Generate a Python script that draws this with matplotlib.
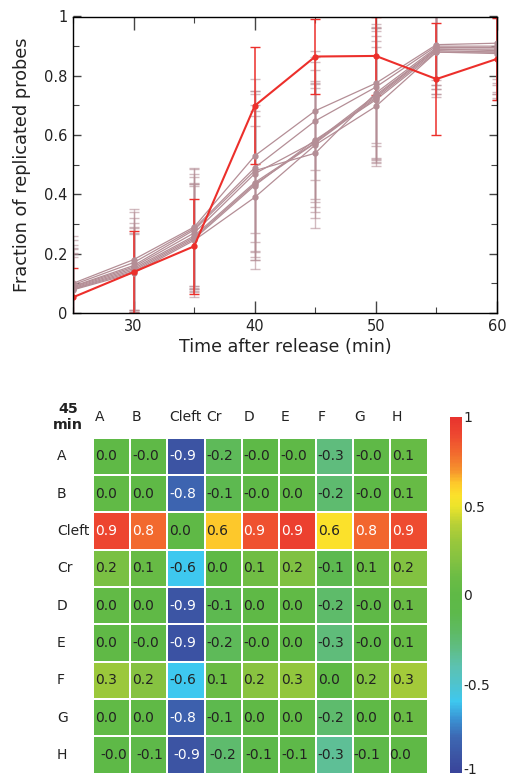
import numpy as np
import matplotlib
matplotlib.use("Agg")
import matplotlib.pyplot as plt
import matplotlib.transforms as mtransforms
from matplotlib.colors import LinearSegmentedColormap, Normalize
from matplotlib.ticker import MultipleLocator, FormatStrFormatter

# replication time course (min after release)
times = [25, 30, 35, 40, 45, 50, 55, 60]

cleft_frac = [0.053, 0.138, 0.225, 0.699, 0.865, 0.867, 0.789, 0.857]
cleft_err = [0.10, 0.137, 0.16, 0.197, 0.126, 0.133, 0.19, 0.137]

# the other eight regions (grey curves)
other_frac = [
    [0.100, 0.180, 0.290, 0.530, 0.682, 0.775, 0.905, 0.910],
    [0.095, 0.170, 0.285, 0.490, 0.648, 0.762, 0.900, 0.900],
    [0.090, 0.160, 0.280, 0.480, 0.539, 0.742, 0.895, 0.895],
    [0.088, 0.155, 0.270, 0.470, 0.579, 0.735, 0.890, 0.890],
    [0.085, 0.150, 0.260, 0.440, 0.575, 0.730, 0.890, 0.885],
    [0.082, 0.145, 0.255, 0.435, 0.573, 0.725, 0.885, 0.880],
    [0.080, 0.140, 0.250, 0.430, 0.584, 0.719, 0.880, 0.880],
    [0.078, 0.135, 0.245, 0.390, 0.567, 0.697, 0.880, 0.875],
]
other_err = [
    [0.16, 0.17, 0.20, 0.26, 0.20, 0.20, 0.12, 0.12],
    [0.15, 0.17, 0.20, 0.25, 0.20, 0.20, 0.13, 0.13],
    [0.14, 0.16, 0.19, 0.27, 0.22, 0.22, 0.14, 0.17],
    [0.13, 0.15, 0.19, 0.28, 0.24, 0.23, 0.15, 0.15],
    [0.13, 0.14, 0.18, 0.26, 0.29, 0.22, 0.12, 0.11],
    [0.12, 0.14, 0.18, 0.23, 0.20, 0.21, 0.13, 0.14],
    [0.12, 0.13, 0.18, 0.25, 0.20, 0.20, 0.14, 0.16],
    [0.11, 0.13, 0.19, 0.24, 0.21, 0.20, 0.15, 0.13],
]

# correlation matrix at 45 min
regions = ["A", "B", "Cleft", "Cr", "D", "E", "F", "G", "H"]
corr = [
    [0.00, -0.02, -0.91, -0.16, -0.03, -0.01, -0.28, -0.02, 0.06],
    [0.02, 0.00, -0.82, -0.12, -0.01, 0.01, -0.24, -0.03, 0.07],
    [0.91, 0.80, 0.00, 0.63, 0.87, 0.93, 0.56, 0.81, 0.89],
    [0.16, 0.07, -0.60, 0.00, 0.12, 0.18, -0.12, 0.09, 0.19],
    [0.03, 0.01, -0.90, -0.12, 0.00, 0.02, -0.22, -0.02, 0.08],
    [0.01, -0.02, -0.92, -0.16, -0.02, 0.00, -0.27, -0.03, 0.06],
    [0.31, 0.21, -0.60, 0.10, 0.22, 0.27, 0.00, 0.19, 0.33],
    [0.02, 0.01, -0.84, -0.11, 0.01, 0.02, -0.23, 0.00, 0.08],
    [-0.03, -0.07, -0.91, -0.23, -0.08, -0.06, -0.34, -0.07, 0.00],
]

cmap_stops = [-1.0, -0.9, -0.8, -0.7, -0.6, -0.5, -0.4, -0.3, -0.2, -0.1, 0.0,
              0.1, 0.2, 0.3, 0.4, 0.5, 0.56, 0.63, 0.7, 0.8, 0.9, 1.0]
cmap_colors = ["#39449a", "#3c56a5", "#3d68b3", "#3a92d3", "#3ec8ef", "#50c3cc",
               "#5cc2b0", "#5fbd84", "#5eba62", "#5db94b", "#5fb946",
               "#6bbc45", "#84c241", "#98c73c", "#b8d036", "#ece42b", "#fbe12b",
               "#fdc92b", "#f6942d", "#f26a2e", "#ee4830", "#e8332e"]

red = "#ec2f2b"
grey = "#b48e96"

fig = plt.figure(figsize=(5.07, 7.76), dpi=100)

# ---- top: time course ----
ax1 = fig.add_axes([73 / 507, 1 - 313 / 776, 424 / 507, 296.5 / 776])
for frac, err in zip(other_frac, other_err):
    eb = ax1.errorbar(times, frac, yerr=err, color=grey, marker="o", ms=3.5,
                      lw=0.9, elinewidth=1.0, capsize=3.5, capthick=1.0)
    for part in eb[1] + eb[2]:
        part.set_alpha(0.6)
ax1.errorbar(times, cleft_frac, yerr=cleft_err, color=red, marker="o", ms=3.5,
             lw=1.5, elinewidth=1.1, capsize=3.5, capthick=1.0)

ax1.set_xlim(25, 60)
ax1.set_ylim(0, 1)
ax1.xaxis.set_major_locator(MultipleLocator(10))
ax1.xaxis.set_minor_locator(MultipleLocator(5))
ax1.yaxis.set_major_locator(MultipleLocator(0.2))
ax1.yaxis.set_minor_locator(MultipleLocator(0.1))
ax1.yaxis.set_major_formatter(FormatStrFormatter("%g"))
ax1.tick_params(which="both", direction="in", top=True, right=True,
                color="#444444", labelsize=10.5, labelcolor="#222222")
ax1.tick_params(axis="x", which="major", length=9, width=1, pad=4)
ax1.tick_params(axis="y", which="major", length=6, width=1, pad=4)
ax1.tick_params(which="minor", length=4, width=0.8)
for s in ax1.spines.values():
    s.set_linewidth(1.0)
ax1.set_xlabel("Time after release (min)", fontsize=12.6, color="#222222", labelpad=3)
ax1.set_ylabel("Fraction of replicated probes", fontsize=12.8, color="#222222", labelpad=9)

# ---- bottom: correlation heatmap ----
cmap = LinearSegmentedColormap.from_list(
    "corr", [((v + 1) / 2, c) for v, c in zip(cmap_stops, cmap_colors)])
norm = Normalize(-1, 1)

ax2 = fig.add_axes([93 / 507, 1 - 773.5 / 776, 334.5 / 507, 336 / 776])
data = np.array(corr)
mesh = ax2.pcolormesh(data, cmap=cmap, norm=norm, edgecolors="white", linewidth=1.1)
ax2.set_xlim(0, len(regions))
ax2.set_ylim(len(regions), 0)
ax2.axis("off")

n = len(regions)
for i in range(n):
    for j in range(n):
        v = data[i, j]
        shift = 0.05
        if i == n - 1:
            shift += 0.16 - 0.03 * j
        ax2.text(j + shift, i + 0.5, f"{v:.1f}", ha="left", va="center",
                 fontsize=10, color="white" if abs(v) > 0.7 else "#222222")
for j, name in enumerate(regions):
    ax2.text(j + 0.04, -0.55, name, ha="left", va="center", fontsize=10, color="#222222")
for i, name in enumerate(regions):
    ax2.text(-0.97, i + 0.5, name, ha="left", va="center", fontsize=10, color="#222222")
fig.text(68 / 507, 1 - 417 / 776, "45\nmin", ha="center", va="center",
         fontsize=10.3, fontweight="bold", linespacing=1.25, color="#222222")

cax = fig.add_axes([450 / 507, 1 - 773 / 776, 12 / 507, 356 / 776])
cb = fig.colorbar(mesh, cax=cax, ticks=[1, 0.5, 0, -0.5, -1])
cb.set_ticklabels(["1", "0.5", "0", "-0.5", "-1"])
cb.outline.set_visible(False)
cax.tick_params(length=0, pad=1, labelsize=10, labelcolor="#222222")
# keep the bottom label inside the canvas
lift = mtransforms.ScaledTranslation(0, 5 / 100, fig.dpi_scale_trans)
bottom_label = cax.get_yticklabels()[-1]
bottom_label.set_transform(bottom_label.get_transform() + lift)

fig.savefig("out.png", dpi=100)
